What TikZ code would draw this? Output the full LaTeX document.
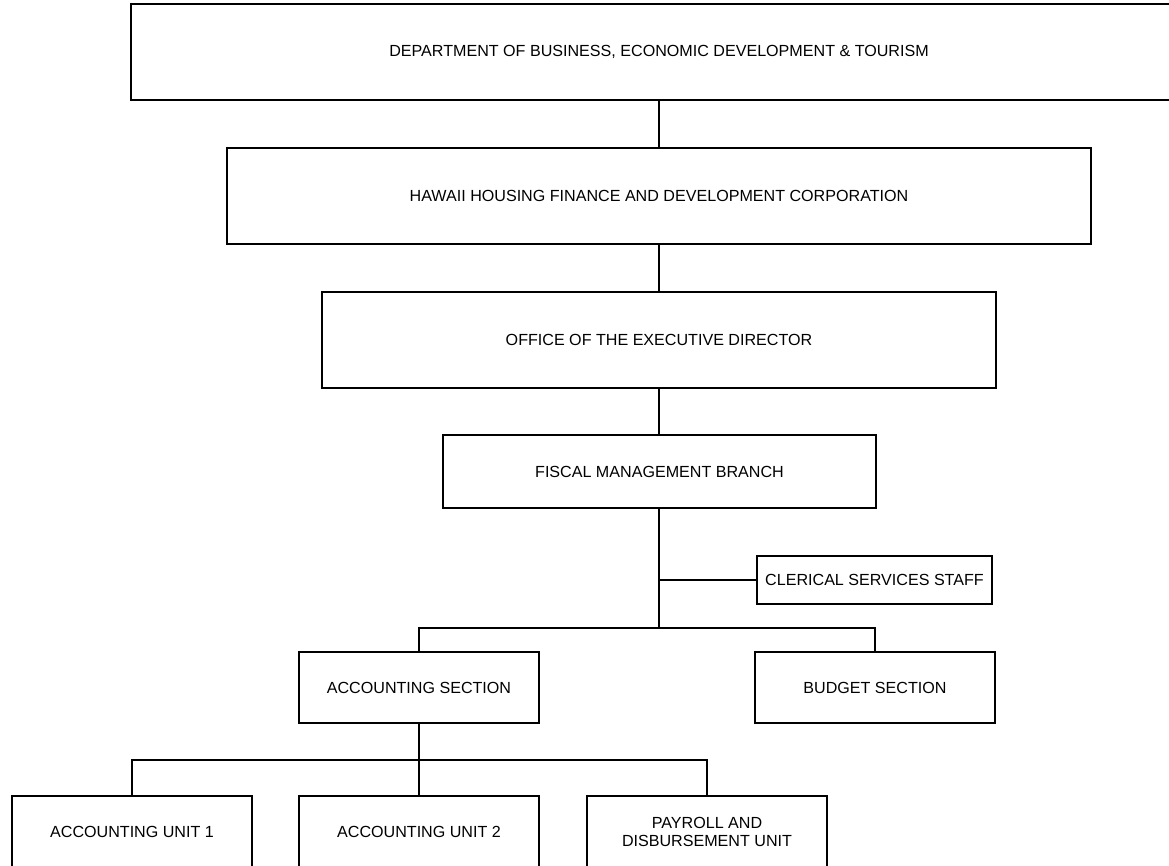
\documentclass[tikz,border=0pt]{standalone}
\usepackage{fontspec}
\setmainfont{Liberation Sans}
\begin{document}
\begin{tikzpicture}[x=1pt,y=1pt,
  orgbox/.style={draw, line width=1.3pt, inner sep=0pt, align=center,
    font=\fontsize{16.1}{18}\selectfont, fill=white},
  link/.style={line width=1.3pt},
  trunk/.style={line width=2.3pt}]
\clip (0,0) rectangle (1169,-866);
\fill[white] (0,0) rectangle (1169,-866);
% nodes
\node[orgbox, minimum width=1056, minimum height=96] (dept) at (659,-52) {DEPARTMENT OF BUSINESS, ECONOMIC DEVELOPMENT \& TOURISM};
\node[orgbox, minimum width=864, minimum height=96] (hhfdc) at (659,-196) {HAWAII HOUSING FINANCE AND DEVELOPMENT CORPORATION};
\node[orgbox, minimum width=674, minimum height=96] (oed) at (659,-340) {OFFICE OF THE EXECUTIVE DIRECTOR};
\node[orgbox, minimum width=433, minimum height=73] (fmb) at (659.5,-471.5) {FISCAL MANAGEMENT BRANCH};
\node[orgbox, minimum width=235, minimum height=48] (css) at (874.5,-580) {CLERICAL SERVICES STAFF};
\node[orgbox, minimum width=240, minimum height=71] (acct) at (419,-687.5) {ACCOUNTING SECTION};
\node[orgbox, minimum width=240, minimum height=71] (budget) at (875,-687.5) {BUDGET SECTION};
\node[orgbox, minimum width=240, minimum height=72] (au1) at (132,-832) {ACCOUNTING UNIT 1};
\node[orgbox, minimum width=240, minimum height=72] (au2) at (419,-832) {ACCOUNTING UNIT 2};
\node[orgbox, minimum width=240, minimum height=72] (pay) at (707,-832) {PAYROLL AND\\DISBURSEMENT UNIT};
% junctions
\coordinate (j1) at (659,-628);
\coordinate (jc) at (659,-580);
\coordinate (j2) at (419,-760);
% connectors
\draw[link] (dept.south -| 659,0) -- (hhfdc.north -| 659,0);
\draw[link] (hhfdc.south -| 659,0) -- (oed.north -| 659,0);
\draw[link] (oed.south -| 659,0) -- (fmb.north -| 659,0);
\draw[trunk] (fmb.south -| j1) -- (j1);
\draw[link] (jc) -- (css.west);
\draw[link] (acct.north) |- (j1) -| (budget.north);
\draw[trunk] (acct.south) -- (j2);
\draw[link] (au1.north) |- (j2) -| (pay.north);
\draw[link] (j2) -- (au2.north);
\end{tikzpicture}
\end{document}
